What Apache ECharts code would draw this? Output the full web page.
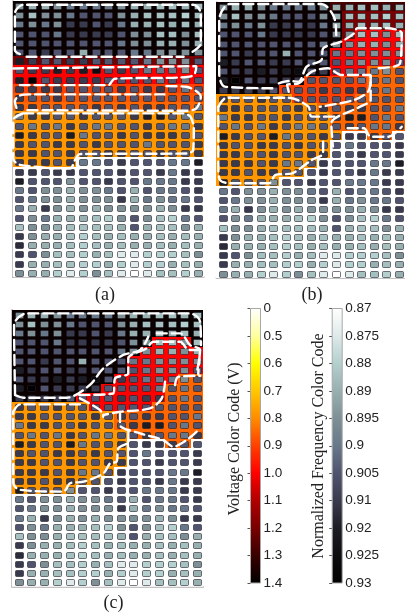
<!DOCTYPE html>
<html><head><meta charset="utf-8">
<style>html,body{margin:0;padding:0;background:#fff}#c{width:405px;height:614px;filter:blur(0.35px)}</style>
<script src="https://cdn.jsdelivr.net/npm/echarts@6/dist/echarts.min.js"></script>
</head><body><div id="c"></div>
<script>
const voltageTicks=[0,0.5,0.6,0.7,0.8,0.9,1.0,1.1,1.2,1.3,1.4];
const voltageLabels=['0','0.5','0.6','0.7','0.8','0.9','1.0','1.1','1.2','1.3','1.4'];
const voltageColors=['#ffffff','#ffffa0','#ffff00','#ffc800','#ff8c00','#ff4000','#ff0000','#b00000','#780000','#380000','#000000'];
const frequencyTicks=[0.87,0.875,0.88,0.89,0.895,0.9,0.905,0.91,0.92,0.925,0.93];
const frequencyLabels=['0.87','0.875','0.88','0.89','0.895','0.9','0.905','0.91','0.92','0.925','0.93'];
const frequencyColors=['#ffffff','#dfeaea','#b4d0ce','#98b0b0','#7e9096','#68788a','#50546e','#3a3a4e','#1c1c24','#0c0c10','#000000'];
const voltageLevels={k:1.38,m:1.28,d:1.2,r:1.0,e:0.9,n:0.87,o:0.85,a:0.78,w:0};
const frequency=[
[.895,.89,.89,.895,.90,.90,.90,.90,.895,.89,.89,.885,.885,.89,.885],
[.895,.885,.895,.895,.90,.905,.905,.905,.895,.89,.885,.885,.885,.88,.885],
[.90,.895,.90,.895,.91,.91,.905,.91,.90,.89,.89,.885,.89,.885,.89],
[.905,.905,.905,.90,.91,.91,.91,.91,.905,.895,.895,.885,.885,.895,.885],
[.905,.905,.905,.905,.905,.905,.905,.905,.90,.895,.895,.89,.89,.895,.89],
[.905,.905,.91,.905,.905,.89,.905,.905,.905,.90,.90,.895,.895,.895,.895],
[.92,.91,.905,.905,.91,.91,.905,.905,.905,.905,.90,.895,.895,.895,.905],
[.905,.91,.91,.92,.91,.92,.925,.905,.91,.905,.90,.90,.90,.895,.905],
[.92,.93,.905,.91,.91,.91,.91,.905,.905,.905,.905,.90,.905,.90,.905],
[.91,.91,.91,.91,.905,.905,.905,.905,.91,.905,.91,.91,.905,.90,.905],
[.91,.905,.905,.91,.905,.905,.905,.905,.905,.905,.905,.905,.905,.905,.905],
[.91,.91,.905,.905,.905,.905,.91,.905,.91,.905,.91,.91,.905,.905,.90],
[.90,.91,.91,.905,.905,.91,.905,.905,.905,.91,.92,.92,.905,.90,.905],
[.905,.90,.905,.90,.91,.905,.90,.90,.905,.905,.91,.905,.90,.90,.91],
[.92,.91,.905,.905,.92,.90,.905,.905,.91,.905,.91,.91,.91,.905,.905],
[.91,.905,.905,.91,.91,.905,.91,.905,.905,.905,.90,.905,.905,.905,.91],
[.91,.91,.905,.905,.91,.905,.905,.91,.91,.905,.905,.91,.905,.905,.91],
[.91,.91,.91,.905,.91,.90,.90,.905,.91,.905,.905,.905,.90,.90,.92],
[.91,.91,.905,.91,.91,.905,.905,.905,.91,.905,.905,.91,.90,.91,.91],
[.92,.905,.905,.905,.895,.905,.905,.91,.905,.905,.90,.90,.90,.91,.91],
[.90,.905,.895,.895,.89,.895,.895,.90,.905,.89,.905,.90,.90,.905,.91],
[.905,.90,.895,.895,.89,.895,.895,.895,.91,.89,.90,.895,.90,.90,.905],
[.90,.89,.91,.895,.89,.895,.89,.895,.895,.895,.895,.89,.895,.91,.91],
[.905,.895,.90,.89,.89,.89,.885,.88,.895,.905,.895,.885,.88,.90,.905],
[.885,.895,.895,.89,.885,.885,.885,.885,.89,.905,.89,.885,.885,.895,.89],
[.91,.895,.89,.89,.885,.88,.885,.89,.885,.89,.89,.885,.89,.885,.89],
[.915,.89,.89,.89,.885,.88,.885,.89,.885,.89,.89,.885,.89,.885,.89],
[.91,.905,.895,.885,.885,.88,.89,.885,.875,.875,.88,.88,.88,.885,.895],
[.91,.89,.89,.885,.885,.88,.88,.89,.88,.875,.88,.88,.89,.885,.89],
[.895,.89,.89,.88,.875,.88,.895,.885,.875,.87,.875,.885,.885,.88,.89]];
const voltageA=[
'kkkkkkkkkkkkkkk','kkkkkkkkkkkkkkk','kkkkkkkkkkkkkkk','kkkkkkkkkkkkkkk','kkkkkkkkkkkkkkk','kkkkkkkkkkkkkkk',
'ddddddddddddddd','rrrrrrrrrrrrrrr','rrrrrrrrrrrrrrr','eeeeeeeeeeeeeee','nnnnnnnnnnnnnnn','ooooooooooooooo',
'aaaaaaaaaaaaaaa','aaaaaaaaaaaaaaa','aaaaaaaaaaaaaaa','aaaaaaaaaaaaaaa','aaaaaaaaaaaaaaa','aaaaawwwwwwwwww',
'wwwwwwwwwwwwwww','wwwwwwwwwwwwwww','wwwwwwwwwwwwwww','wwwwwwwwwwwwwww','wwwwwwwwwwwwwww','wwwwwwwwwwwwwww',
'wwwwwwwwwwwwwww','wwwwwwwwwwwwwww','wwwwwwwwwwwwwww','wwwwwwwwwwwwwww','wwwwwwwwwwwwwww','wwwwwwwwwwwwwww'];
const voltageB=[
'kkkkkkkkkmmmmmm','kkkkkkkkkkddddd','kkkkkkkkkkddddd','kkkkkkkkkkdrrrr','kkkkkkkkkkrrrrr','kkkkkkkkkrrrrrr',
'kkkkkkkkkrrrrrr','kkkkkkkkkrrrooo','kkkkkkkeeeeeooo','kkkkkeeeeeeeooo','aaaaaaeeeeeoooo','aaaaaaaaooooooo',
'aaaaaaaaaoooooo','aaaaaaaaaoooooo','aaaaaaaaaawwoow','aaaaaaaaawwwwww','aaaaaaaaawwwwww','aaaaaaaawwwwwww',
'aaaaaaawwwwwwww','aaaaawwwwwwwwww','wwwwwwwwwwwwwww','wwwwwwwwwwwwwww','wwwwwwwwwwwwwww','wwwwwwwwwwwwwww',
'wwwwwwwwwwwwwww','wwwwwwwwwwwwwww','wwwwwwwwwwwwwww','wwwwwwwwwwwwwww','wwwwwwwwwwwwwww','wwwwwwwwwwwwwww'];
const voltageC=[
'kkkkkkkkkkkkkkk','kkkkkkkkkkkkkkk','kkkkkkkkkkkkkkk','kkkkkkkkkkkrrrk','kkkkkkkkkkrrrrr','kkkkkkkkkrrrrrr',
'kkkkkkkkkrrrrrr','kkkkkkkkrrrrroo','kkkkkkkrrrrrooo','kkkkkrrrrrrrooo','aaaaaarrrrroooo','aaaaaaaaooooooo',
'aaaaaaaaooooooo','aaaaaaaaaoooooo','aaaaaaaaawwwoow','aaaaaaaaawwwwww','aaaaaaaaawwwwww','aaaaaaaawwwwwww',
'aaaaaaawwwwwwww','aaaaawwwwwwwwww','wwwwwwwwwwwwwww','wwwwwwwwwwwwwww','wwwwwwwwwwwwwww','wwwwwwwwwwwwwww',
'wwwwwwwwwwwwwww','wwwwwwwwwwwwwww','wwwwwwwwwwwwwww','wwwwwwwwwwwwwww','wwwwwwwwwwwwwww','wwwwwwwwwwwwwww'];
const contoursA=[
[[.57,5.76],[.18,5.33],[.18,1.34],[.84,.4],[14.15,.4],[14.75,1.34],[14.75,4.6],[13.9,5.69]],
[[1.1,6.05],[13.4,6.05]],
[[.05,7.32],[14.4,7.07],[14.2,8.04],[13.1,8.3],[8,8.44],[7.5,9.13],[.57,9.13]],
[[.3,11.6],[.18,10.9],[.5,10.3],[1.36,10.14],[11.9,10.14]],
[[12.06,9.24],[13.6,9.31],[14.75,10.4],[14.4,11.67],[13.6,11.92],[.84,11.85]],
[[.84,12.2],[13.37,12.2],[13.94,12.57],[14.2,13.84],[14.15,16.2],[13.63,16.56],[5.27,16.63],[4.88,17.3],[4.5,18.2],[.57,17.8],[.05,17.1],[.05,12.93],[.84,12.2]]];
const contoursB=[
[[4.45,9.38],[.68,9.2],[.23,7.75],[.23,1.96],[1.07,.22],[8.36,.22],[9.35,1.6],[9.53,3.59]],
[[4.97,8.84],[5.76,8.59],[6.54,8.66],[7.19,7.03],[8.36,6.3],[8.49,5.04],[9.92,4.31],[10.96,3.4],[11.2,2.86],[13.57,2.86],[14.74,3.4],[14.6,6.67],[12.78,7.2]],
[[5.76,9.75],[5.63,9],[6.54,8.84],[7.58,7.57],[8.88,7.2],[9.92,7.93],[12.27,7.93],[12.14,9.57],[10.96,10.65],[8.23,11.38]],
[[12.27,8],[12.27,10.65],[11.4,11.4],[9.14,13.19],[9.27,15.72]],
[[10.44,13.73],[11.74,13.73],[12.27,14.64],[13.7,14.64],[14.74,13.55]],
[[.16,11.4],[.81,10.4],[5.76,10.4],[7.32,11.38],[7.58,12.46],[9.53,12.46]],
[[8.49,15.18],[8.49,16.45],[7.58,17.17],[6.02,18.62],[4.71,18.8],[4.19,19.7],[1.07,19.7],[.29,19.35],[.16,17.9],[.16,11.4]]];
const contoursC=[
[[.24,9.24],[.16,1.66],[1.15,.4],[13.96,.4],[14.75,1.3],[14.82,3.83]],
[[.24,9.24],[.89,9.53],[4.29,9.53],[6.1,8.16],[7.16,6.35],[8.73,4.9],[10.04,4.37],[10.69,2.92]],
[[11.35,2.56],[13.18,2.56],[13.96,3.83],[14.75,4.37],[14.48,6.9]],
[[5.28,9.24],[7.95,9.06],[8.08,7.44],[9.12,6.9],[9.12,5.27],[10.56,4.18],[11.08,3.47],[13.18,3.47],[13.87,4.37],[14.75,4.37],[14.6,7]],
[[12,7.8],[11.74,9.6],[10.82,10.69],[8.47,11.05],[7.16,11.4]],
[[5.33,9.6],[6.9,10.87],[7.16,11.59]],
[[12.78,8.16],[13.05,7.26],[14.75,7.15]],
[[14.48,13.2],[13.7,14.12],[12.65,14.84],[11.87,14.12],[10.04,13.39],[8.47,12.49],[8.47,11.23]],
[[.1,11.05],[.63,10.25],[5.33,10.25]],
[[9.12,13.03],[9.12,14.3],[8.34,15.02],[8.2,16.46],[7.69,16.64],[7.16,17.73],[5.6,18.63],[4.55,18.8],[4.03,19.7],[.63,19.5],[.1,18.8],[.1,11.05]]];

function hex(c){return [1,3,5].map(i=>parseInt(c.substr(i,2),16));}
function colorAt(v,ticks,cols){
  let i=0; while(i<ticks.length-2&&v>ticks[i+1])i++;
  const t=Math.max(0,Math.min(1,(v-ticks[i])/(ticks[i+1]-ticks[i])));
  const a=hex(cols[i]),b=hex(cols[i+1]);
  return 'rgb('+a.map((x,k)=>Math.round(x+(b[k]-x)*t)).join(',')+')';
}
const panels=[
 {v:voltageA,c:contoursA,left:12.6,top:1.1,w:191.4,h:276},
 {v:voltageB,c:contoursB,left:216.3,top:2,w:192,h:276},
 {v:voltageC,c:contoursC,left:12,top:309.7,w:191.3,h:277}
];
const grids=[],xAxes=[],yAxes=[],series=[];
panels.forEach((p,idx)=>{
  grids.push({left:p.left,top:p.top,width:p.w,height:p.h,containLabel:false});
  xAxes.push({type:'value',gridIndex:idx,min:0,max:15,splitLine:{show:false},axisTick:{show:false},axisLabel:{show:false},
    axisLine:{show:true,onZero:false,lineStyle:{color:'#b0b0b0',width:1.5}}});
  yAxes.push({type:'value',gridIndex:idx,min:0,max:30,inverse:true,splitLine:{show:false},axisTick:{show:false},axisLabel:{show:false},
    axisLine:{show:true,onZero:false,lineStyle:{color:'#b0b0b0',width:1.5}}});
  const vd=[],fd=[];
  p.v.forEach((row,y)=>{for(let x=0;x<15;x++){vd.push([x,y,voltageLevels[row[x]]]);fd.push([x,y,frequency[y][x]]);}});
  series.push({type:'custom',xAxisIndex:idx,yAxisIndex:idx,silent:true,animation:false,z:1,clip:true,data:vd,
    encode:{x:0,y:1},
    renderItem:(pa,api)=>{
      const x=api.value(0),y=api.value(1);
      const a=api.coord([x,y]),b=api.coord([x+1,y+1]);
      const x0=Math.round(a[0]),y0=Math.round(a[1]);
      return {type:'rect',shape:{x:x0,y:y0,width:Math.round(b[0])-x0,height:Math.round(b[1])-y0},
        style:{fill:colorAt(api.value(2),voltageTicks,voltageColors)}};
    }});
  series.push({type:'custom',xAxisIndex:idx,yAxisIndex:idx,silent:true,animation:false,z:2,clip:true,data:fd,
    encode:{x:0,y:1},
    renderItem:(pa,api)=>{
      const x=api.value(0),y=api.value(1);
      const a=api.coord([x+0.2,y+0.2]),b=api.coord([x+0.8,y+0.8]);
      return {type:'rect',shape:{x:Math.round(a[0])+.5,y:Math.round(a[1])+.5,width:Math.round(b[0]-a[0]),height:Math.round(b[1]-a[1]),r:1},
        style:{fill:colorAt(api.value(2),frequencyTicks,frequencyColors),stroke:'rgba(30,30,40,0.6)',lineWidth:1}};
    }});
  p.c.forEach(line=>series.push({type:'line',xAxisIndex:idx,yAxisIndex:idx,data:line,smooth:0.3,showSymbol:false,silent:true,animation:false,z:5,
    lineStyle:{color:'#fff',width:2.4,type:[10,5],cap:'round'}}));
});
function addBar(left,labels,colors){
  const i=grids.length;
  grids.push({left:left,top:308.5,width:10,height:274.5});
  xAxes.push({type:'value',gridIndex:i,min:0,max:1,splitLine:{show:false},axisTick:{show:false},axisLabel:{show:false},axisLine:{show:false}});
  yAxes.push({type:'value',gridIndex:i,min:0,max:10,interval:1,inverse:true,position:'right',splitLine:{show:false},
    axisLine:{show:false},axisTick:{show:true,inside:true,length:3,lineStyle:{color:'#555',width:1}},
    axisLabel:{show:true,margin:3,color:'#222',fontFamily:'Liberation Sans',fontSize:13.5,formatter:v=>labels[Math.round(v)]}});
  series.push({type:'custom',xAxisIndex:i,yAxisIndex:i,silent:true,animation:false,data:[[0,0,1,10]],z:1,
    renderItem:(pa,api)=>{
      const a=api.coord([api.value(0),api.value(1)]),b=api.coord([api.value(2),api.value(3)]);
      return {type:'rect',shape:{x:a[0],y:a[1],width:b[0]-a[0],height:b[1]-a[1]},
        style:{fill:new echarts.graphic.LinearGradient(0,0,0,1,colors.map((c,k)=>({offset:k/10,color:c}))),stroke:'#a8a8a8',lineWidth:1}};
    }});
}
addBar(250.5,voltageLabels,voltageColors);
addBar(332.2,frequencyLabels,frequencyColors);
const serif='Liberation Serif';
const chart=echarts.init(document.getElementById('c'),null,{renderer:'canvas'});
chart.setOption({animation:false,backgroundColor:'#fff',grid:grids,xAxis:xAxes,yAxis:yAxes,series:series,
  graphic:[
   {type:'text',x:105,y:295,z:10,style:{text:'(a)',font:'18px '+serif,fill:'#222',textAlign:'center',textVerticalAlign:'middle'}},
   {type:'text',x:312,y:295.5,z:10,style:{text:'(b)',font:'18px '+serif,fill:'#222',textAlign:'center',textVerticalAlign:'middle'}},
   {type:'text',x:113.5,y:603,z:10,style:{text:'(c)',font:'18px '+serif,fill:'#222',textAlign:'center',textVerticalAlign:'middle'}},
   {type:'text',x:235,y:439,rotation:Math.PI/2,z:10,style:{text:'Voltage Color Code (V)',font:'16px '+serif,fill:'#222',textAlign:'center',textVerticalAlign:'middle'}},
   {type:'text',x:319,y:446,rotation:Math.PI/2,z:10,style:{text:'Normalized Frequency Color Code',font:'16px '+serif,fill:'#222',textAlign:'center',textVerticalAlign:'middle'}}
  ]});
</script></body></html>
